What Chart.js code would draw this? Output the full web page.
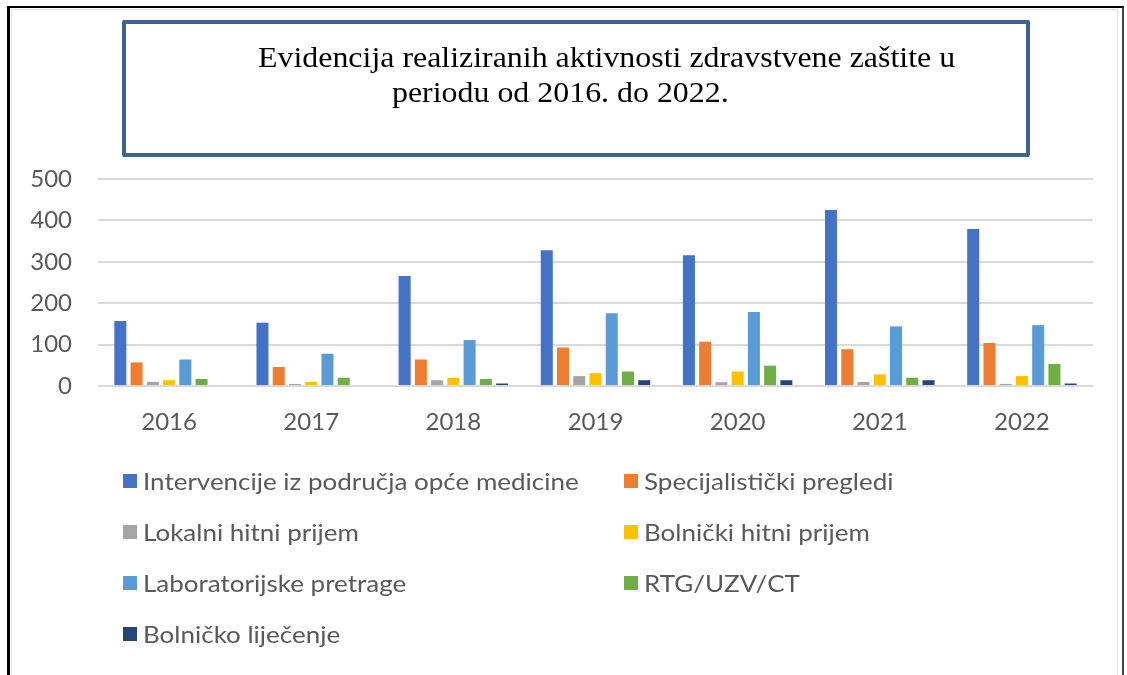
<!DOCTYPE html>
<html>
<head>
<meta charset="utf-8">
<script src="https://cdn.jsdelivr.net/npm/chart.js@4.4.0/dist/chart.umd.min.js"></script>
<style>
  html, body { margin: 0; padding: 0; background: #fff; }
  #wrap { position: relative; width: 1127px; height: 675px; overflow: hidden; }
  #grafikon { position: absolute; left: 0; top: 0; }
  #okvir { position: absolute; left: 7px; top: 6px; width: 1112px; height: 720px;
           border-top: 2px solid #000; border-left: 3px solid #000; border-right: 2px solid #444; }
  #okvir2 { position: absolute; left: 11px; top: 9px; width: 1105px; height: 720px;
            border: 1px solid #e3e3e3; }
  #kutija { position: absolute; left: 122px; top: 20px; width: 908px; height: 137px;
            box-sizing: border-box; border: 4px solid #3b6393; border-radius: 2px; }
  .naslov { position: absolute; font: 29px "Liberation Serif", "Times New Roman", serif;
            line-height: 32px; color: #000; white-space: nowrap;
            transform: scaleX(1.1); transform-origin: left center; }
  .stavka { position: absolute; height: 30px; display: flex; align-items: center; white-space: nowrap; }
  .stavka i { display: inline-block; width: 14px; height: 14px; }
  .stavka span { margin-left: 6px; font: 23px Lato, "Open Sans", sans-serif; color: #595959;
                 transform: scaleX(1.13); transform-origin: left center; }
</style>
</head>
<body>
<div id="wrap">
  <canvas id="grafikon" width="1127" height="675"></canvas>
  <div id="okvir2"></div>
  <div id="okvir"></div>
  <div id="kutija"></div>
  <div class="naslov" style="left:258px; top:41px;">Evidencija realiziranih aktivnosti zdravstvene zaštite u</div>
  <div class="naslov" style="left:392px; top:76px;">periodu od 2016. do 2022.</div>
  <div id="legenda"></div>
</div>
<script>
// Podaci
const godine = ['2016', '2017', '2018', '2019', '2020', '2021', '2022'];
const opcaMedicina     = [157, 153, 266, 328, 316, 425, 379];
const specijalisticki  = [57, 46, 64, 93, 107, 89, 104];
const lokalniHitni     = [10, 5, 14, 24, 9, 10, 5];
const bolnickiHitni    = [14, 10, 20, 31, 35, 28, 24];
const laboratorij      = [64, 78, 111, 176, 179, 144, 147];
const rtg              = [17, 20, 17, 35, 49, 20, 53];
const bolnickoLijecenje = [0, 0, 6, 14, 14, 14, 6];
const yTicks = [0, 100, 200, 300, 400, 500];

const nazivi = ['Intervencije iz područja opće medicine', 'Specijalistički pregledi',
  'Lokalni hitni prijem', 'Bolnički hitni prijem', 'Laboratorijske pretrage',
  'RTG/UZV/CT', 'Bolničko liječenje'];
const vrijednosti = [opcaMedicina, specijalisticki, lokalniHitni, bolnickiHitni,
  laboratorij, rtg, bolnickoLijecenje];
const boje = ['#4472c4', '#ed7d31', '#a5a5a5', '#ffc000', '#5b9bd5', '#70ad47', '#264478'];

const tekst = '#595959';
const fontOsi = { family: 'Lato, "Open Sans", sans-serif', size: 24 };

const ctx = document.getElementById('grafikon').getContext('2d');
const grafikon = new Chart(ctx, {
  type: 'bar',
  data: {
    labels: godine,
    datasets: nazivi.map((n, i) => ({
      label: n,
      data: vrijednosti[i],
      backgroundColor: boje[i],
      borderWidth: 0,
      categoryPercentage: 0.8,
      barPercentage: 0.74
    }))
  },
  options: {
    responsive: false,
    animation: false,
    devicePixelRatio: 1,
    layout: { padding: { top: 179, right: 34, left: 0, bottom: 0 } },
    plugins: { legend: { display: false }, title: { display: false }, tooltip: { enabled: false } },
    scales: {
      x: {
        grid: { display: false },
        border: { display: false },
        ticks: { color: tekst, font: fontOsi, padding: 14, maxRotation: 0 },
        afterFit: s => { s.height = 289; }
      },
      y: {
        min: 0,
        max: yTicks[yTicks.length - 1],
        afterBuildTicks: s => { s.ticks = yTicks.map(v => ({ value: v })); },
        grid: { color: '#d9d9d9', lineWidth: 2, drawTicks: false },
        border: { display: false },
        ticks: { color: tekst, font: fontOsi, padding: 26 },
        afterFit: s => { s.width = 98; }
      }
    }
  }
});

// Legenda (dva stupca)
const legenda = document.getElementById('legenda');
nazivi.forEach((n, i) => {
  const d = document.createElement('div');
  d.className = 'stavka';
  d.style.left = (i % 2 === 0 ? 123 : 624) + 'px';
  d.style.top = (481 + Math.floor(i / 2) * 51 - 15) + 'px';
  d.innerHTML = '<i style="background:' + boje[i] + '"></i><span>' + n + '</span>';
  legenda.appendChild(d);
});
</script>
</body>
</html>
